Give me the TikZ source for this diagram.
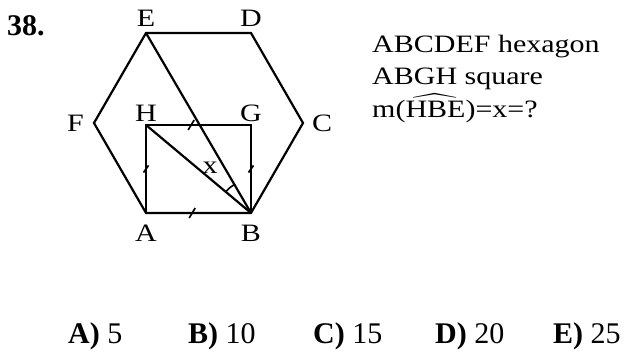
\documentclass[tikz,border=0pt]{standalone}
\usepackage{amsmath}
\usepackage{fontspec}
\setmainfont{Liberation Serif}
\usepackage{tikz}
\usetikzlibrary{
  positioning,
  calc,
  angles
}
\newcommand{\stretchtxt}[1]{\scalebox{1.2}[1]{#1}}

\begin{document}
\begin{tikzpicture}[
    x=1pt, y=1pt,
    edge/.style={line width=2.2pt, line join=miter},
    tickmark/.style={line width=1.7pt},
    lbl/.style={inner sep=0pt, font=\fontsize{25}{30}\selectfont},
    qtext/.style={inner sep=0pt, anchor=base west, font=\fontsize{25}{30}\selectfont},
    answer/.style={inner sep=0pt, anchor=base west, font=\fontsize{30}{36}\selectfont}
]
\useasboundingbox (0,0) rectangle (626,352);

    \coordinate (A) at (146,139);
    \coordinate (B) at (251,139);
    \coordinate (C) at (303,229);
    \coordinate (D) at (251,319);
    \coordinate (E) at (146,319);
    \coordinate (F) at (94,229);
    \coordinate (G) at (251,227);
    \coordinate (H) at (146,227);

    \draw[edge] (A) -- (B) -- (C) -- (D) -- (E) -- (F) -- cycle;
    \draw[edge] (A) -- (H) -- (G) -- (B);
    \draw[edge] (H) -- (B);
    \draw[edge] (E) -- (B);

    \draw[tickmark] ($(A)!0.44!(B)+(-3,-5)$) -- ++(6,10);
    \draw[tickmark] ($(H)!0.43!(G)+(-3,-5)$) -- ++(6,10);
    \draw[tickmark] ($(A)!0.5!(H)+(-2.5,-3.5)$) -- ++(5,7);
    \draw[tickmark] ($(B)!0.5!(G)+(-2.5,-3.5)$) -- ++(5,7);

    \pic[draw, line width=1.6pt, angle radius=33pt] {angle=E--B--H};

    \node[lbl, above=6pt of E] (lblE) {\stretchtxt{E}};
    \node[lbl, above=6pt of D] (lblD) {\stretchtxt{D}};
    \node[lbl, left=10pt of F] (lblF) {\stretchtxt{F}};
    \node[lbl, right=9pt of C] (lblC) {\stretchtxt{C}};
    \node[lbl, above=3pt of H] (lblH) {\stretchtxt{H}};
    \node[lbl, above=3pt of G] (lblG) {\stretchtxt{G}};
    \node[lbl, below=12pt of A] (lblA) {\stretchtxt{A}};
    \node[lbl, below=12pt of B] (lblB) {\stretchtxt{B}};
    \node[lbl] (lblx) at (210,184) {\stretchtxt{x}};

    \node[answer] (num) at (7,316) {\textbf{38.}};

    \node[qtext] (hexa) at (372,299) {\stretchtxt{ABCDEF hexagon}};
    \node[qtext] (squa) at (372,267) {\stretchtxt{ABGH square}};
    \node[qtext] (ask) at (372,234) {\stretchtxt{m($\widehat{\mbox{HBE}}$)=x=?}};

    \node[answer] (ansA) at (68,8) {\textbf{A)} 5};
    \node[answer] (ansB) at (188,8) {\textbf{B)} 10};
    \node[answer] (ansC) at (313,8) {\textbf{C)} 15};
    \node[answer] (ansD) at (435,8) {\textbf{D)} 20};
    \node[answer] (ansE) at (553,8) {\textbf{E)} 25};

\end{tikzpicture}
\end{document}
